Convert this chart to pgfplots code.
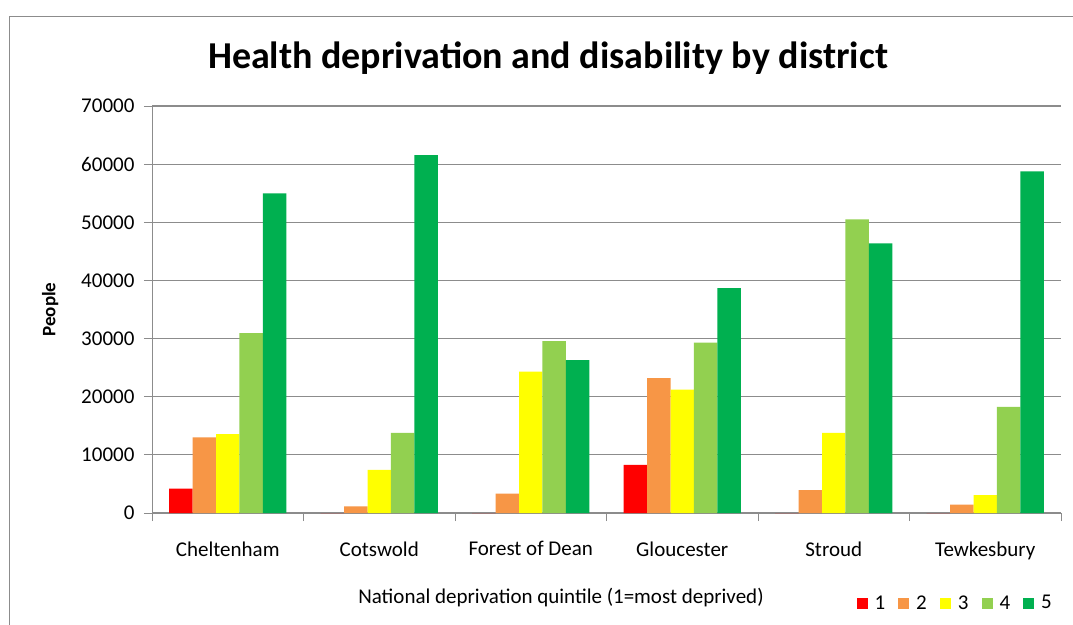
\documentclass[border=0pt]{standalone}
\usepackage{fontspec}
\setmainfont{Carlito}
\usepackage{pgfplots}
\usepackage{pgfplotstable}
\pgfplotsset{compat=1.18}
\definecolor{qa}{HTML}{FF0000}
\definecolor{qb}{HTML}{F79646}
\definecolor{qc}{HTML}{FFFF00}
\definecolor{qd}{HTML}{92D050}
\definecolor{qe}{HTML}{00B050}
\definecolor{axgray}{HTML}{8C8C8C}
\pgfplotstableread{
x q1 q2 q3 q4 q5
0 4180 12990 13570 30930 54980
1 0 1130 7440 13800 61560
2 0 3320 24330 29550 26290
3 8300 23220 21240 29310 38660
4 0 3950 13800 50510 46390
5 0 1430 3090 18260 58760
}\datatable
\begin{document}
\begin{tikzpicture}
\useasboundingbox (0,0) rectangle (1073pt,-624pt);
\fill[white] (0,0) rectangle (1073pt,-624pt);
\draw[axgray, line width=1pt] (9pt,-16pt) rectangle (1100pt,-650pt);
\node[font=\fontsize{38}{44}\selectfont\bfseries] at (548pt,-58pt) {Health deprivation and disability by district};
\node[font=\fontsize{21}{25}\selectfont] at (561pt,-598pt) {National deprivation quintile (1=most deprived)};
\begin{axis}[
  at={(152pt,-513pt)}, anchor=south west,
  scale only axis, width=909pt, height=407pt,
  ymin=0, ymax=70000, ytick={0,10000,...,70000},
  xmin=-0.5, xmax=5.5,
  ybar=0pt, bar width=0.1545,
  axis x line*=bottom, axis y line*=left,
  axis line style={axgray, line width=1pt, -},
  tick align=outside, major tick length=8pt,
  tick style={axgray, line width=1pt},
  ymajorgrids, grid style={axgray, line width=1.2pt},
  scaled y ticks=false,
  /pgf/number format/1000 sep={},
  /pgf/number format/assume math mode=true,
  yticklabel style={font=\fontsize{21}{25}\selectfont, xshift=-6pt},
  xtick={-0.5,0.5,...,5.5}, xticklabels={},
  extra x ticks={0,1,2,3,4,5},
  extra x tick labels={Cheltenham,Cotswold,Forest of Dean,Gloucester,Stroud,Tewkesbury},
  extra x tick style={major tick length=0pt, tick label style={font=\fontsize{21}{25}\selectfont, yshift=-25pt}},
  ylabel={People},
  ylabel style={font=\bfseries\fontsize{19}{22}\selectfont, at={(axis description cs:-0.112,0.5)}, anchor=center},
  legend columns=5,
  legend style={at={(axis description cs:1,0)}, anchor=east, xshift=-4pt, yshift=-90pt, draw=none, fill=none, font=\fontsize{21}{25}\selectfont, /tikz/every odd column/.append style={column sep=5pt}, /tikz/every even column/.append style={column sep=11pt}},
  legend image code/.code={\fill[#1] (0pt,-5.5pt) rectangle (11pt,5.5pt);},
]
\addplot[fill=qa, draw=none] table[x=x, y=q1] {\datatable};
\addplot[fill=qb, draw=none] table[x=x, y=q2] {\datatable};
\addplot[fill=qc, draw=none] table[x=x, y=q3] {\datatable};
\addplot[fill=qd, draw=none] table[x=x, y=q4] {\datatable};
\addplot[fill=qe, draw=none] table[x=x, y=q5] {\datatable};
\legend{1,2,3,4,5}
\end{axis}
\end{tikzpicture}
\end{document}
